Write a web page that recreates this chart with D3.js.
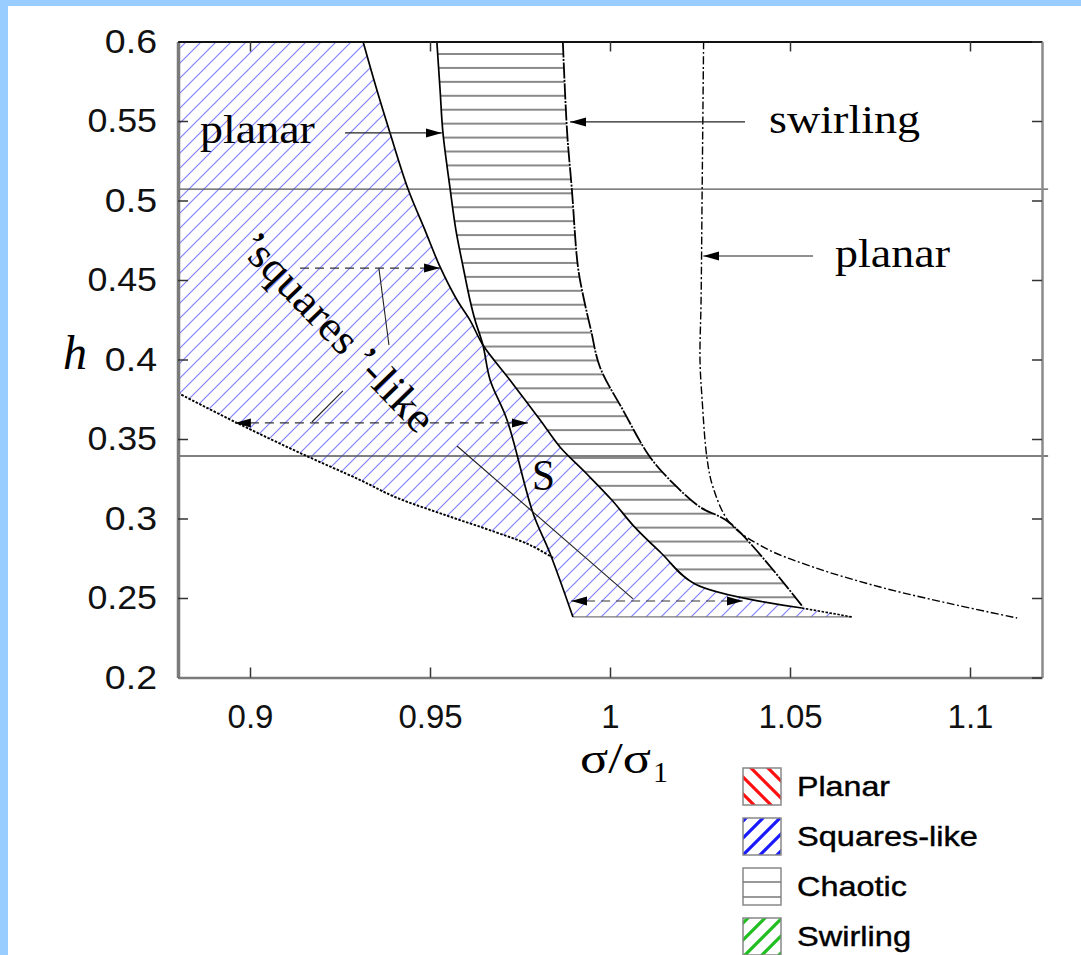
<!DOCTYPE html>
<html><head><meta charset="utf-8">
<script src="https://cdn.jsdelivr.net/npm/d3@7"></script>
<style>html,body{margin:0;padding:0;background:#fff;} svg{display:block;}</style>
</head><body>
<svg id="c" width="1081" height="955"></svg>
<script>
// ---------- data ----------
const xTicks = [0.9, 0.95, 1, 1.05, 1.1];
const xTickLabels = ["0.9", "0.95", "1", "1.05", "1.1"];
const yTicks = [0.2, 0.25, 0.3, 0.35, 0.4, 0.45, 0.5, 0.55, 0.6];
const yTickLabels = ["0.2", "0.25", "0.3", "0.35", "0.4", "0.45", "0.5", "0.55", "0.6"];

// boundary between the squares-like region and the rest (solid), [sigma/sigma1, h]
const curveA = [[0.9314,0.600],[0.9350,0.5714],[0.9389,0.5425],[0.9439,0.5072],[0.9486,0.4814],[0.9528,0.4582],
  [0.9575,0.4374],[0.9611,0.4248],[0.9647,0.4091],[0.9722,0.3871],[0.9806,0.3620],[0.9861,0.3450],[0.9933,0.3286],
  [1.0005,0.3116],[1.0068,0.2947],[1.0142,0.2783],[1.0236,0.2588],[1.0533,0.2437]];
// left boundary of the chaotic region (solid)
const curveB = [[0.9519,0.600],[0.9528,0.5695],[0.9536,0.5425],[0.9556,0.5072],[0.9572,0.4814],[0.9592,0.4582],
  [0.9611,0.4374],[0.9625,0.4248],[0.9647,0.4091],[0.9667,0.3871],[0.9714,0.3620],[0.9786,0.3035],[0.9833,0.2783],
  [0.9897,0.2381]];
// right boundary of the chaotic region
const curveC = [[0.9869,0.600],[0.9881,0.5425],[0.9894,0.5072],[0.9911,0.4582],[0.9928,0.4374],[0.9947,0.4186],
  [0.9972,0.3953],[1.0036,0.3682],[1.0111,0.3387],[1.0180,0.3211],[1.0250,0.3072],[1.0333,0.2972],[1.0536,0.2443]];
// lower boundary of the squares-like region (dotted)
const curveD = [[0.8800,0.3789],[0.8964,0.3601],[0.9139,0.3412],[0.9306,0.3242],[0.9403,0.3135],[0.9542,0.3022],
  [0.9681,0.2915],[0.9778,0.2833],[0.9842,0.2752]];
// planar / swirling boundary (dash-dot)
const curveE = [[1.0260,0.600],[1.0256,0.5072],[1.0253,0.4374],[1.0250,0.3997],[1.0256,0.3745],[1.0269,0.3387],
  [1.0286,0.3198],[1.0333,0.2972],[1.0425,0.2821],[1.0564,0.2695],[1.0750,0.2569],[1.0936,0.2469],[1.1131,0.2374]];
// dotted tail at the bottom right tip and the bottom edge
const tail = [[1.0533,0.2437],[1.0672,0.2381]];
const bottomEdge = [[0.9897,0.2381],[1.0672,0.2381]];
// horizontal reference lines (h values)
const refLines = [0.5072, 0.3393];

// annotation arrows: [x1,h1,x2,h2], style, heads
const arrows = [
  {p:[0.9264,0.5425,0.9533,0.5425], dash:false, start:false, end:true},
  {p:[1.0375,0.5494,0.9889,0.5494], dash:false, start:false, end:true},
  {p:[1.0564,0.4651,1.0259,0.4651], dash:false, start:false, end:true},
  {p:[0.9139,0.4575,0.9528,0.4575], dash:true, start:false, end:true},
  {p:[0.8958,0.3601,0.9772,0.3601], dash:true, start:true, end:true},
  {p:[0.9892,0.2481,1.0369,0.2481], dash:true, start:true, end:true}
];
const leaders = [
  [0.9358,0.4575,0.9386,0.4091],
  [0.9172,0.3607,0.9258,0.3802],
  [0.9575,0.3456,1.0064,0.2494]
];
const labels = [
  {t:"planar", x:0.8861, h:0.5362, w:115},
  {t:"swirling", x:1.0442, h:0.5425, w:151},
  {t:"planar", x:1.0625, h:0.4582, w:115}
];
const legendNames = ["Planar", "Squares-like", "Chaotic", "Swirling"];
const legendWidths = [93, 181, 110, 114];

// ---------- drawing ----------
const svg = d3.select("#c");
const x = d3.scaleLinear().domain([0.88, 1.12]).range([178, 1042]);
const y = d3.scaleLinear().domain([0.2, 0.6]).range([677.5, 41.5]);
const line = d3.line().x(d => x(d[0])).y(d => y(d[1]));
const smooth = d3.line().x(d => x(d[0])).y(d => y(d[1])).curve(d3.curveCatmullRom.alpha(0.5));

// page frame
svg.append("rect").attr("x",0).attr("y",0).attr("width",1081).attr("height",955).attr("fill","#fff");
svg.append("rect").attr("x",0).attr("y",0).attr("width",8).attr("height",955).attr("fill","#99ccff");
svg.append("rect").attr("x",0).attr("y",0).attr("width",1081).attr("height",6).attr("fill","#99ccff");

const defs = svg.append("defs");
const s = 15;
const pSq = defs.append("pattern").attr("id","hSq").attr("patternUnits","userSpaceOnUse")
  .attr("width",s).attr("height",s).attr("x",3).attr("y",0);
pSq.append("path").attr("d",`M0,${s} L${s},0 M${-s/4},${s/4} L${s/4},${-s/4} M${3*s/4},${5*s/4} L${5*s/4},${3*s/4}`)
  .attr("stroke","#8080ff").attr("stroke-width",1.15);
const ch = 13.93;
const pCh = defs.append("pattern").attr("id","hCh").attr("patternUnits","userSpaceOnUse")
  .attr("width",20).attr("height",ch).attr("x",0).attr("y",54 - ch/2);
pCh.append("path").attr("d",`M0,${ch/2} L20,${ch/2}`).attr("stroke","#4a4a4a").attr("stroke-width",1.3);

function legPat(id, color, dir){
  const w = 17;
  const p = defs.append("pattern").attr("id",id).attr("patternUnits","userSpaceOnUse")
    .attr("width",w).attr("height",w);
  const d = dir === "/" ? `M0,${w} L${w},0 M${-w/4},${w/4} L${w/4},${-w/4} M${3*w/4},${5*w/4} L${5*w/4},${3*w/4}`
                        : `M0,0 L${w},${w} M${-w/4},${3*w/4} L${w/4},${5*w/4} M${3*w/4},${-w/4} L${5*w/4},${w/4}`;
  p.append("path").attr("d",d).attr("stroke",color).attr("stroke-width",3.2);
}
legPat("lgP","#ff1010","\\");
legPat("lgS","#1a1aff","/");
legPat("lgW","#1fbf1f","/");

// arrowhead markers
const mk = defs.append("marker").attr("id","ah").attr("markerUnits","userSpaceOnUse")
  .attr("markerWidth",17).attr("markerHeight",10).attr("refX",16).attr("refY",5).attr("orient","auto-start-reverse");
mk.append("path").attr("d","M0,0.5 L16,5 L0,9.5 Z").attr("fill","#000");

// regions
const crossH = 0.4091;
const aLower = curveA.filter(d => d[1] <= crossH);
const bUpper = curveB.filter(d => d[1] >= crossH);
const squaresPath = smooth(curveA) + "L" + [tail[1], bottomEdge[0]].map(d => x(d[0]) + "," + y(d[1])).join("L")
  + "L" + smooth(curveD.slice().reverse()).slice(1) + `L${x(0.88)},${y(0.6)}Z`;
svg.append("path").attr("d", squaresPath).attr("fill","url(#hSq)").attr("stroke","none");
const chaoticPath = smooth(bUpper) + "L" + smooth(aLower).slice(1) + "L" + smooth(curveC.slice().reverse()).slice(1) + "Z";
svg.append("path").attr("d", chaoticPath).attr("fill","url(#hCh)").attr("stroke","none");

// reference lines
svg.selectAll(".ref").data(refLines).enter().append("line")
  .attr("x1", x(0.88)).attr("x2", x(1.1217)).attr("y1", d => y(d)).attr("y2", d => y(d))
  .attr("stroke","#555").attr("stroke-width",1.3);

// bottom edge
svg.append("path").attr("d", line(bottomEdge)).attr("stroke","#777").attr("stroke-width",1.3).attr("fill","none");

// curves
const curveStyles = [
  {d:curveA, w:1.7, dash:null},
  {d:curveB, w:1.7, dash:null},
  {d:curveC, w:1.8, dash:"16,1.5,2,1.5"},
  {d:curveD, w:1.9, dash:"2.5,1.5"},
  {d:curveE, w:1.4, dash:"8,2.5,2,2.5"},
  {d:tail, w:1.6, dash:"2.5,1.5"}
];
curveStyles.forEach(c => {
  svg.append("path").attr("d", smooth(c.d)).attr("fill","none").attr("stroke","#000")
    .attr("stroke-width", c.w).attr("stroke-dasharray", c.dash);
});

// leaders
leaders.forEach(l => {
  svg.append("line").attr("x1",x(l[0])).attr("y1",y(l[1])).attr("x2",x(l[2])).attr("y2",y(l[3]))
    .attr("stroke","#222").attr("stroke-width",1.1);
});
// arrows
arrows.forEach(a => {
  svg.append("line").attr("x1",x(a.p[0])).attr("y1",y(a.p[1])).attr("x2",x(a.p[2])).attr("y2",y(a.p[3]))
    .attr("stroke", a.dash ? "#333" : "#222").attr("stroke-width",1.2)
    .attr("stroke-dasharray", a.dash ? "9,6" : null)
    .attr("marker-start", a.start ? "url(#ah)" : null)
    .attr("marker-end", a.end ? "url(#ah)" : null);
});

// labels
labels.forEach(l => {
  svg.append("text").attr("x",x(l.x)).attr("y",y(l.h)).text(l.t)
    .attr("font-family","Liberation Serif, Times New Roman, serif").attr("font-size",39)
    .attr("textLength",l.w).attr("lengthAdjust","spacingAndGlyphs").attr("fill","#000");
});
svg.append("text").attr("x",x(0.9783)).attr("y",y(0.318)).text("S")
  .attr("font-family","Liberation Serif, serif").attr("font-size",44).attr("textLength",23)
  .attr("lengthAdjust","spacingAndGlyphs");
svg.append("text").attr("transform",`translate(${x(0.9215)},${y(0.4110)}) rotate(46)`)
  .attr("text-anchor","middle").text("’squares\u2009’-like")
  .attr("font-family","Liberation Serif, serif").attr("font-size",43).attr("textLength",260)
  .attr("lengthAdjust","spacingAndGlyphs");

// axes
const fontAx = "Liberation Sans, Arial, sans-serif";
const gL = svg.append("g").attr("transform",`translate(${x(0.88)},0)`)
  .call(d3.axisLeft(y).tickValues(yTicks).tickFormat((d,i)=>yTickLabels[i]).tickSizeInner(-10).tickSizeOuter(0).tickPadding(21));
const gB = svg.append("g").attr("transform",`translate(0,${y(0.2)})`)
  .call(d3.axisBottom(x).tickValues(xTicks).tickFormat((d,i)=>xTickLabels[i]).tickSizeInner(-10).tickSizeOuter(0).tickPadding(27));
const gT = svg.append("g").attr("transform",`translate(0,${y(0.6)})`)
  .call(d3.axisTop(x).tickValues(xTicks).tickFormat("").tickSizeInner(-10).tickSizeOuter(0));
const gR = svg.append("g").attr("transform",`translate(${x(1.12)},0)`)
  .call(d3.axisRight(y).tickValues(yTicks).tickFormat("").tickSizeInner(-10).tickSizeOuter(0));
[gL,gB,gT,gR].forEach(g => {
  g.selectAll("text").attr("font-family",fontAx).attr("font-size",33).attr("fill","#111");
  g.selectAll(".tick line").attr("stroke","#333").attr("stroke-width",1.5);
});
gL.selectAll("text").attr("textLength", function(){ return this.textContent.length * 17.4; })
  .attr("lengthAdjust","spacingAndGlyphs");
gL.select(".domain").attr("stroke","#7a7a7a").attr("stroke-width",3.5);
gB.select(".domain").attr("stroke","#7a7a7a").attr("stroke-width",2.5);
gR.select(".domain").attr("stroke","#8a8a8a").attr("stroke-width",2.5);
gT.select(".domain").attr("stroke","#111").attr("stroke-width",2.2);

// axis titles
svg.append("text").attr("x",63).attr("y",369).text("h")
  .attr("font-family","Liberation Serif, serif").attr("font-style","italic").attr("font-size",48);
const xt = svg.append("text").attr("x",580).attr("y",773)
  .attr("font-family","Liberation Serif, serif").attr("font-size",44);
xt.append("tspan").text("σ/σ").attr("textLength",71).attr("lengthAdjust","spacingAndGlyphs");
xt.append("tspan").attr("font-size",30).attr("dx",2).attr("dy",9).text("1");

// legend
const legFills = ["url(#lgP)","url(#lgS)","#fff","url(#lgW)"];
const legY = [768, 818, 868, 918];
legendNames.forEach((n,i) => {
  svg.append("rect").attr("x",743).attr("y",legY[i]).attr("width",38).attr("height",37)
    .attr("fill",legFills[i]).attr("stroke","#888").attr("stroke-width",1.5);
  svg.append("text").attr("x",797).attr("y",legY[i]+28).text(n)
    .attr("font-family",fontAx).attr("font-size",28).attr("fill","#000")
    .attr("stroke","#000").attr("stroke-width",0.4)
    .attr("textLength",legendWidths[i]).attr("lengthAdjust","spacingAndGlyphs");
});
[882, 897].forEach(v => {
  svg.append("line").attr("x1",743).attr("x2",781).attr("y1",v).attr("y2",v).attr("stroke","#777").attr("stroke-width",1.3);
});
</script>
</body></html>
